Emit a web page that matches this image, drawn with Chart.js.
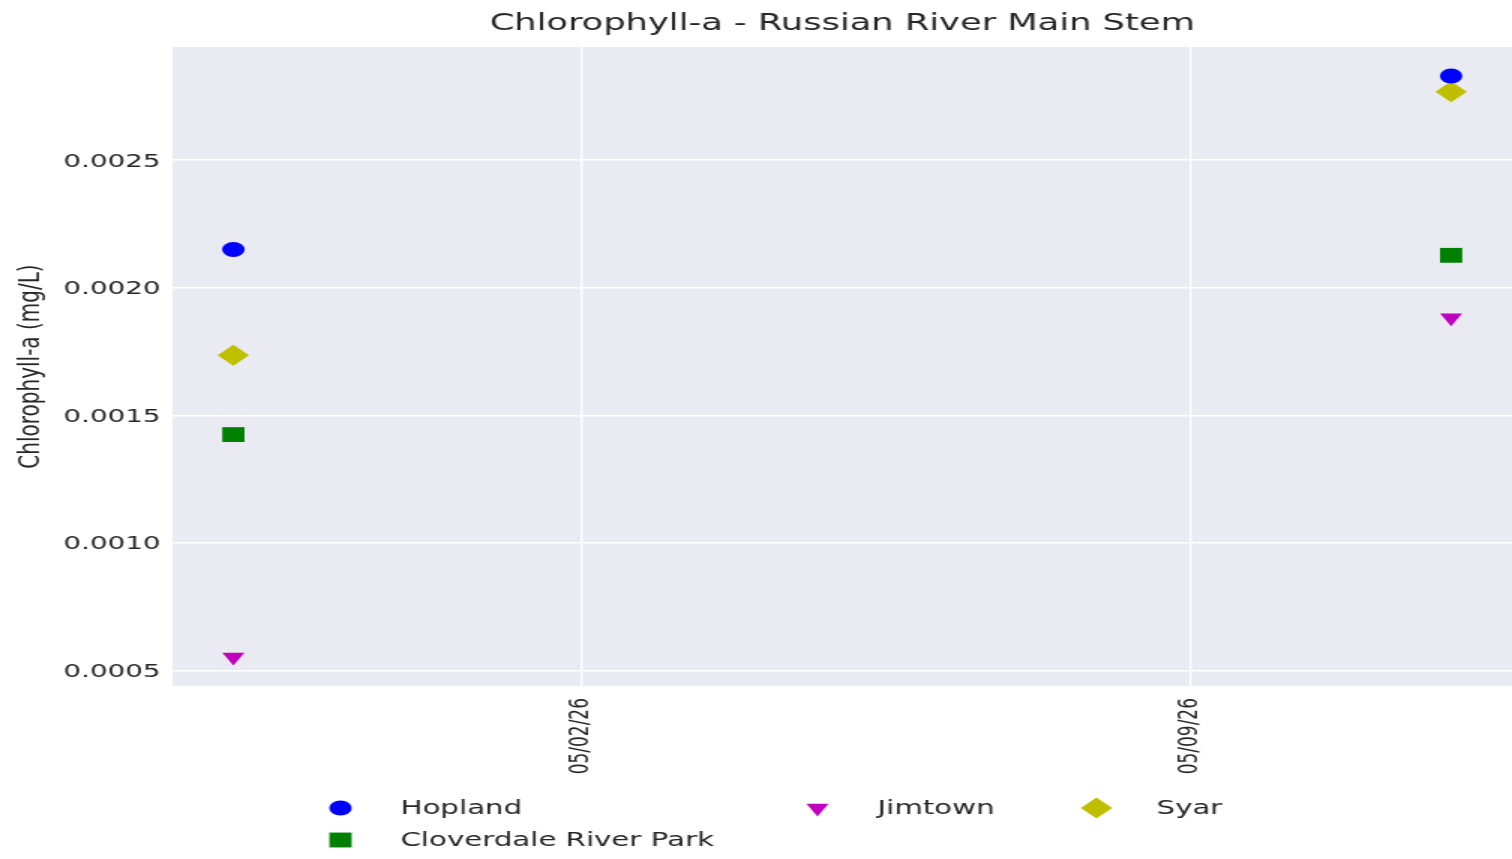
<!DOCTYPE html>
<html>
<head>
<meta charset="utf-8">
<script src="https://cdn.jsdelivr.net/npm/chart.js@4/dist/chart.umd.min.js"></script>
<style>
  html, body { margin: 0; padding: 0; background: #ffffff; overflow: hidden; }
  /* the reference is stretched sideways, so the canvas is drawn narrow and widened */
  #grafica { display: block; width: 1512px; height: 859px; }
</style>
</head>
<body>
<canvas id="grafica" width="1008" height="859" style="width:1512px;height:859px"></canvas>
<script>
const fechas = ['2026-04-28', '2026-05-12'];
const hopland = [0.00215, 0.00283];
const cloverdale = [0.001424, 0.002127];
const jimtown = [0.000552, 0.001882];
const syar = [0.001735, 0.002768];

const fechas_ticks = ['2026-05-02', '2026-05-09'];
const valores_ticks = [0.0005, 0.0010, 0.0015, 0.0020, 0.0025];

const titulo = 'Chlorophyll-a - Russian River Main Stem';

const DIA = 86400000;
function aDias(fecha) {
  return Date.parse(fecha + 'T00:00:00Z') / DIA;
}
function etiquetaFecha(dias) {
  const d = new Date(dias * DIA);
  const mm = String(d.getUTCMonth() + 1).padStart(2, '0');
  const dd = String(d.getUTCDate()).padStart(2, '0');
  const yy = String(d.getUTCFullYear()).slice(2);
  return mm + '/' + dd + '/' + yy;
}

function puntos(valores) {
  return fechas.map(function(f, i){ return { x: aDias(f), y: valores[i] } });
}

// margenes de 5% como matplotlib
const xs = fechas.map(aDias);
const xmin = Math.min(...xs), xmax = Math.max(...xs);
const todos = hopland.concat(cloverdale, jimtown, syar);
const ymin = Math.min(...todos), ymax = Math.max(...todos);
const mx = (xmax - xmin) * 0.05, my = (ymax - ymin) * 0.05;

const series = [
  { label: 'Hopland', data: hopland, color: '#0000ff', style: 'circle', radius: 7.5, rotation: 0 },
  { label: 'Cloverdale River Park', data: cloverdale, color: '#008000', style: 'rect', radius: 10.5, rotation: 0 },
  { label: 'Jimtown', data: jimtown, color: '#bf00bf', style: 'triangle', radius: 8.5, rotation: 180 },
  { label: 'Syar', data: syar, color: '#bfbf00', style: 'rectRot', radius: 10.5, rotation: 0 }
];

const texto = '#262626';
const fuente = 'DejaVu Sans';

const fondoPlot = {
  id: 'fondoPlot',
  beforeDraw(chart) {
    const a = chart.chartArea;
    const ctx = chart.ctx;
    ctx.save();
    ctx.fillStyle = '#eaeaf2';
    ctx.fillRect(a.left, a.top, a.right - a.left, a.bottom - a.top);
    ctx.restore();
  }
};

// titulo centrado sobre el area del grafico, y leyenda en 3 columnas como matplotlib
const textos = {
  id: 'textos',
  afterDraw(chart) {
    const ctx = chart.ctx;
    const a = chart.chartArea;
    ctx.save();
    ctx.fillStyle = texto;
    ctx.font = '23.5px "' + fuente + '"';
    ctx.textAlign = 'center';
    ctx.textBaseline = 'middle';
    ctx.fillText(titulo, (a.left + a.right) / 2, 24);

    const lugares = [[227, 808], [227, 840], [545, 808], [731, 808]];
    ctx.font = '19.5px "' + fuente + '"';
    ctx.textAlign = 'left';
    series.forEach(function(s, i) {
      const p = lugares[i];
      ctx.fillStyle = s.color;
      Chart.helpers.drawPoint(ctx, { pointStyle: s.style, rotation: s.rotation, radius: s.radius, borderWidth: 0 }, p[0], p[1]);
      ctx.fillStyle = texto;
      ctx.fillText(s.label, p[0] + 40, p[1] + 1);
    });
    ctx.restore();
  }
};

new Chart(document.getElementById('grafica'), {
  type: 'scatter',
  data: {
    datasets: series.map(function(s) {
      return {
        label: s.label,
        data: puntos(s.data),
        backgroundColor: s.color,
        borderColor: s.color,
        borderWidth: 0,
        pointStyle: s.style,
        pointRadius: s.radius,
        pointRotation: s.rotation,
        pointHoverRadius: s.radius
      };
    })
  },
  options: {
    responsive: false,
    animation: false,
    layout: { autoPadding: false, padding: { top: 47, left: 0, right: 0, bottom: 0 } },
    plugins: {
      legend: { display: false },
      tooltip: { enabled: false },
      title: { display: false }
    },
    scales: {
      x: {
        type: 'linear',
        min: xmin - mx,
        max: xmax + mx,
        afterBuildTicks: function(scale) {
          scale.ticks = fechas_ticks.map(function(f){ return { value: aDias(f) } });
        },
        afterFit: function(scale) {
          scale.height = 173;
          scale.paddingLeft = 0;
          scale.paddingRight = 0;
        },
        ticks: {
          color: texto,
          font: { family: fuente, size: 17 },
          minRotation: 90,
          maxRotation: 90,
          padding: 12,
          callback: function(v) { return etiquetaFecha(v); }
        },
        grid: { color: '#ffffff', lineWidth: 1.4, drawTicks: false },
        border: { display: false }
      },
      y: {
        min: ymin - my,
        max: ymax + my,
        afterBuildTicks: function(scale) {
          scale.ticks = valores_ticks.map(function(v){ return { value: v } });
        },
        afterFit: function(scale) {
          scale.width = 115;
          scale.paddingTop = 0;
          scale.paddingBottom = 0;
        },
        title: {
          display: true,
          text: 'Chlorophyll-a (mg/L)',
          color: texto,
          font: { family: fuente, size: 20 },
          padding: { top: 9, bottom: 0 }
        },
        ticks: {
          color: texto,
          font: { family: fuente, size: 18.5 },
          padding: 8,
          labelOffset: 1.5,
          callback: function(v) { return v.toFixed(4); }
        },
        grid: { color: '#ffffff', lineWidth: 1.4, drawTicks: false },
        border: { display: false }
      }
    }
  },
  plugins: [fondoPlot, textos]
});
</script>
</body>
</html>
